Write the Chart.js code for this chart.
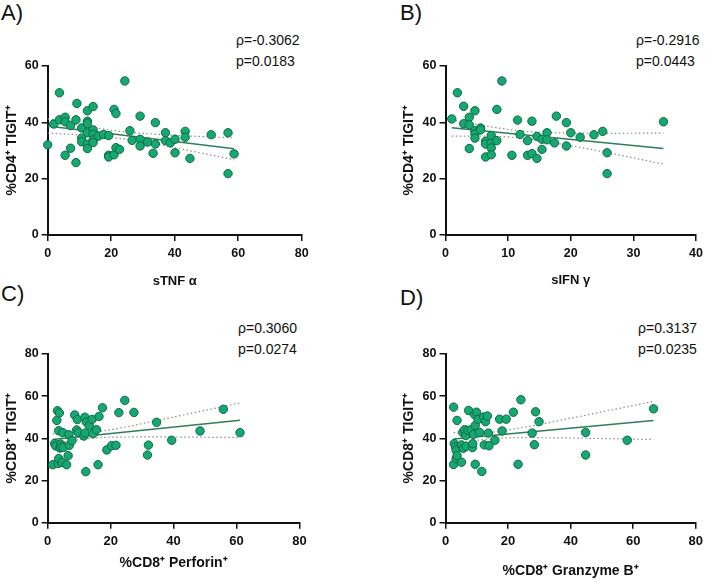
<!DOCTYPE html>
<html><head><meta charset="utf-8">
<script src="https://cdn.jsdelivr.net/npm/chart.js@4.4.0/dist/chart.umd.min.js"></script>
<style>
body{margin:0;width:708px;height:582px;background:#fff;position:relative;overflow:hidden;font-family:'Liberation Sans',Arial,sans-serif;}
.pane{position:absolute;}
.lbl{position:absolute;font-size:22px;color:#111;line-height:1;}
.stat{position:absolute;font-size:14px;color:#111;line-height:1;white-space:nowrap;}
</style></head><body>
<div class="lbl" style="left:1px;top:2px">A)</div>
<div class="lbl" style="left:400px;top:2px">B)</div>
<div class="lbl" style="left:1px;top:283px">C)</div>
<div class="lbl" style="left:400px;top:287px">D)</div>
<div class="stat" style="left:236px;top:33px">ρ=-0.3062</div>
<div class="stat" style="left:236px;top:54px">p=0.0183</div>
<div class="stat" style="left:636px;top:33px">ρ=-0.2916</div>
<div class="stat" style="left:636px;top:54px">p=0.0443</div>
<div class="stat" style="left:238px;top:321px">ρ=0.3060</div>
<div class="stat" style="left:238px;top:342px">p=0.0274</div>
<div class="stat" style="left:638px;top:321px">ρ=0.3137</div>
<div class="stat" style="left:638px;top:342px">p=0.0235</div>
<script>
// ---- Panel A: sTNF alpha vs %CD4+ TIGIT+
const tnfX = [0,1.9,3.7,3.7,5.5,5.5,5.5,7.2,7.2,8.9,8.9,9.2,10.7,10.7,10.7,12.5,12.5,12.5,12.5,12.5,12.5,14.3,14.3,14.3,14.3,14.3,16.0,17.6,19.2,19.2,19.2,20.9,21.5,20.9,21.5,22.6,24.3,25.9,26.6,29.1,29.1,29.1,31.5,33.2,33.9,33.9,37.1,37.1,38.6,40.1,40.1,43.3,43.3,44.8,51.5,56.8,56.8,58.7];
const tnfY = [32,39.4,50.5,40.9,41.8,40.2,28.3,38.9,30.8,25.7,40.9,46.7,38.0,34.4,33.1,44.1,40.4,39.6,36.3,32.2,30.7,45.6,37.3,35.7,33.7,32.8,35.1,35.7,35.3,28.3,27.7,44.6,43.1,28.5,31.0,30.4,54.7,37.0,33.6,42.2,34.0,31.6,33.0,29.0,39.9,32.3,36.3,33.5,32.7,34.0,29.2,36.8,34.7,27.2,35.6,36.3,21.8,28.8];
const tnfFitX = [0,58.7];
const tnfFitY = [38.7,30.6];
const tnfBandX = [0,10,22,35,45,58.7];
const tnfUpper = [41.25,39.05,36.93,35.69,35.13,34.5];
const tnfLower = [36.15,35.55,34.39,32.05,29.85,26.7];

// ---- Panel B: sIFN gamma vs %CD4+ TIGIT+
const ifnX = [1.0,1.9,2.9,2.9,3.8,3.8,3.8,4.7,4.7,4.7,4.7,5.6,5.6,6.4,6.4,6.4,7.3,7.3,7.3,7.3,8.2,8.2,9.0,10.6,11.5,11.9,13.1,13.1,13.8,13.8,14.6,14.6,15.4,15.4,16.2,16.2,17.4,17.7,19.3,19.3,20.0,21.5,23.7,25.1,25.8,25.8,34.8];
const ifnY = [41.2,50.5,45.7,39.5,41.8,39.1,30.7,44.1,37.0,35.9,34.4,38.0,37.3,33.3,32.3,27.7,35.3,32.5,30.9,28.5,44.6,33.5,54.7,28.3,40.8,35.7,33.5,28.3,40.4,28.9,35.0,27.2,34.0,30.4,36.3,33.8,32.7,42.2,39.9,31.6,36.3,34.7,35.6,36.8,29.2,21.8,40.2];
const ifnFitX = [1.0,34.8];
const ifnFitY = [38.1,30.7];
const ifnBandX = [1,6,12,20,27,34.8];
const ifnUpper = [40.9,38.88,36.96,36.19,36.11,36.2];
const ifnLower = [35.1,35.12,34.42,31.69,28.71,25.2];

// ---- Panel C: %CD8+ Perforin+ vs %CD8+ TIGIT+
const perfX = [1.6,2.2,2.6,2.9,3.1,3.3,3.5,3.5,3.7,3.9,4.1,4.3,4.6,4.8,5.0,6.0,6.5,6.7,6.9,7.7,8.6,9.2,9.4,9.7,11.5,11.8,11.9,12.1,12.3,13.2,14.1,14.4,15.5,16.0,16.3,17.4,18.8,20.3,21.7,22.6,24.5,27.4,31.7,32.0,34.6,39.4,48.4,55.8,61.1];
const perfY = [27.5,37.5,36.4,48.5,53.1,28.1,43.6,30.4,52.0,35.4,37.3,36.0,28.6,42.7,35.7,27.5,31.8,41.7,36.7,38.9,51.1,44.0,48.9,42.8,41.1,50.0,42.5,24.2,47.7,46.0,49.0,42.2,44.1,27.5,50.4,54.5,34.5,36.5,36.7,52.2,58.0,52.3,32.1,36.8,47.6,39.1,43.5,53.8,42.7];
const perfFitX = [1.6,61.1];
const perfFitY = [39.5,48.6];
const perfBandX = [1.6,8,13,22,35,48,61.1];
const perfUpper = [42.1,42.04,42.56,44.63,48.55,52.65,56.82];
const perfLower = [37.4,38.92,39.92,40.61,40.67,40.55,40.38];

// ---- Panel D: %CD8+ Granzyme B+ vs %CD8+ TIGIT+
const gzmX = [2.6,2.6,2.8,3.2,3.4,3.4,3.7,3.7,5.1,5.1,5.5,5.7,6.1,6.5,6.6,7.2,7.4,8.2,8.6,8.7,9.0,9.3,9.5,9.5,9.9,10.4,10.9,11.6,12.2,12.4,12.8,13.4,13.7,13.9,15.8,17.3,18.1,19.4,21.7,23.2,24.1,27.7,28.4,28.8,29.9,44.8,44.8,58.1,66.5];
const gzmY = [54.8,27.6,37.5,35.9,34.3,30.4,48.5,31.8,28.7,36.9,42.8,35.3,44.1,41.3,36.2,43.8,53.2,44.1,35.6,37.5,41.9,51.3,46.1,27.7,52.4,49.0,42.8,24.3,50.1,36.9,47.9,50.6,42.5,36.5,39.1,49.1,43.5,49.1,52.4,27.7,58.3,42.5,37.0,52.6,47.9,42.8,32.1,39.1,54.0];
const gzmFitX = [2.6,66.5];
const gzmFitY = [39.7,48.5];
const gzmBandX = [2.6,14,25,40,55,66.5];
const gzmUpper = [42.7,42.85,45.23,49.54,54.04,57.55];
const gzmLower = [37.6,39.69,40.33,40.16,39.76,39.45];

// ---- Tick labels
const xTicksA = [0,20,40,60,80];
const xTicksB = [0,10,20,30,40];
const xTicksCD = [0,20,40,60,80];
const yTicksTop = [0,20,40,60];
const yTicksBottom = [0,20,40,60,80];

const FILL = '#16a870';
const EDGE = '#0b6b46';
const FIT = '#2f7d5a';
const BAND = '#8c8c8c';

function pts(xs, ys){ return xs.map((x,i)=>({x:x, y:ys[i]})); }

function panel(cfg){
  const wrap = document.createElement('div');
  wrap.className = 'pane';
  wrap.style.left = cfg.box.x+'px'; wrap.style.top = cfg.box.y+'px';
  wrap.style.width = cfg.box.w+'px'; wrap.style.height = cfg.box.h+'px';
  const cv = document.createElement('canvas');
  cv.width = cfg.box.w; cv.height = cfg.box.h;
  cv.style.width = cfg.box.w+'px'; cv.style.height = cfg.box.h+'px';
  wrap.appendChild(cv); document.body.appendChild(wrap);

  const yLh = 14*1.2, xLh = cfg.xFont.size*1.2;
  const yLeft = cfg.yTitleX - yLh/2;
  const xBottom = cfg.xTitleY + xLh/2;
  const pad = {
    left: yLeft - cfg.box.x,
    top: cfg.area.t - cfg.box.y,
    right: cfg.box.x + cfg.box.w - cfg.area.r,
    bottom: cfg.box.y + cfg.box.h - xBottom
  };
  const yW = cfg.area.l - yLeft;
  const xH = xBottom - cfg.area.b;
  const xt = cfg.xTicks, yt = cfg.yTicks;

  new Chart(cv, {
    type: 'scatter',
    data: { datasets: [
      { data: pts(cfg.px, cfg.py), backgroundColor: FILL, borderColor: EDGE, borderWidth: 1,
        pointRadius: 4.2, order: 0, clip: false },
      { data: pts(cfg.fx, cfg.fy), showLine: true, pointRadius: 0, borderColor: FIT, borderWidth: 1.5,
        order: 1, clip: false },
      { data: pts(cfg.bx, cfg.bu), showLine: true, pointRadius: 0, borderColor: BAND, borderWidth: 1.2,
        borderDash: [1.5, 2.5], cubicInterpolationMode: 'monotone', order: 2, clip: false },
      { data: pts(cfg.bx, cfg.bl), showLine: true, pointRadius: 0, borderColor: BAND, borderWidth: 1.2,
        borderDash: [1.5, 2.5], cubicInterpolationMode: 'monotone', order: 2, clip: false }
    ]},
    options: {
      responsive: false, animation: false, devicePixelRatio: 1,
      layout: { padding: pad },
      plugins: { legend: { display: false }, tooltip: { enabled: false } },
      scales: {
        x: {
          type: 'linear', min: xt[0], max: xt[xt.length-1],
          afterFit: s => { s.height = xH; },
          afterBuildTicks: s => { s.ticks = xt.map(v => ({value: v})); },
          ticks: { stepSize: xt[1]-xt[0], color: '#111', padding: 5, font: cfg.xTickFont },
          grid: { drawOnChartArea: false, color: '#111', lineWidth: 1.5, tickLength: 6 },
          border: { display: true, color: '#111', width: 2 },
          title: { display: true, text: cfg.xTitle, color: '#111', padding: 0, font: cfg.xFont }
        },
        y: {
          type: 'linear', min: yt[0], max: yt[yt.length-1],
          afterFit: s => { s.width = yW; },
          afterBuildTicks: s => { s.ticks = yt.map(v => ({value: v})); },
          ticks: { stepSize: yt[1]-yt[0], color: '#111', padding: 3,
                   font: { family: "'Liberation Sans', Arial, sans-serif", size: 12.5, weight: 'bold' } },
          grid: { drawOnChartArea: false, color: '#111', lineWidth: 1.5, tickLength: 6 },
          border: { display: true, color: '#111', width: 2 },
          title: { display: true, text: cfg.yTitle, color: '#111', padding: 0,
                   font: { family: "'Liberation Sans', Arial, sans-serif", size: 14, weight: 'bold' } }
        }
      }
    }
  });
}

const normTick = { family: "'Liberation Sans', Arial, sans-serif", size: 12.5, weight: 'bold' };
const narrowTick = { family: "'Liberation Sans Narrow', 'Liberation Sans', Arial, sans-serif", size: 13, weight: 'bold' };

panel({ box:{x:0,y:0,w:354,h:291}, area:{l:47.7,r:301.7,t:66,b:235}, yTitleX:12.5, xTitleY:281,
  xTicks:xTicksA, yTicks:yTicksTop, xTickFont:normTick,
  xFont:{ family:"'Liberation Sans', Arial, sans-serif", size:13, weight:'bold' },
  xTitle:'sTNF α', yTitle:'%CD4⁺ TIGIT⁺',
  px:tnfX, py:tnfY, fx:tnfFitX, fy:tnfFitY, bx:tnfBandX, bu:tnfUpper, bl:tnfLower });

panel({ box:{x:354,y:0,w:354,h:291}, area:{l:445.5,r:699.3,t:66,b:235}, yTitleX:409.5, xTitleY:280,
  xTicks:xTicksB, yTicks:yTicksTop, xTickFont:normTick,
  xFont:{ family:"'Liberation Sans', Arial, sans-serif", size:13, weight:'bold' },
  xTitle:'sIFN γ', yTitle:'%CD4⁺ TIGIT⁺',
  px:ifnX, py:ifnY, fx:ifnFitX, fy:ifnFitY, bx:ifnBandX, bu:ifnUpper, bl:ifnLower });

panel({ box:{x:0,y:291,w:354,h:291}, area:{l:47.7,r:299.5,t:354,b:522.7}, yTitleX:12.5, xTitleY:563,
  xTicks:xTicksCD, yTicks:yTicksBottom, xTickFont:narrowTick,
  xFont:{ family:"'Liberation Sans Narrow', 'Liberation Sans', Arial, sans-serif", size:14, weight:'bold' },
  xTitle:'%CD8⁺ Perforin⁺', yTitle:'%CD8⁺ TIGIT⁺',
  px:perfX, py:perfY, fx:perfFitX, fy:perfFitY, bx:perfBandX, bu:perfUpper, bl:perfLower });

panel({ box:{x:354,y:291,w:354,h:291}, area:{l:445.5,r:699.3,t:354,b:522.7}, yTitleX:409.5, xTitleY:571,
  xTicks:xTicksCD, yTicks:yTicksBottom, xTickFont:narrowTick,
  xFont:{ family:"'Liberation Sans Narrow', 'Liberation Sans', Arial, sans-serif", size:14, weight:'bold' },
  xTitle:'%CD8⁺ Granzyme B⁺', yTitle:'%CD8⁺ TIGIT⁺',
  px:gzmX, py:gzmY, fx:gzmFitX, fy:gzmFitY, bx:gzmBandX, bu:gzmUpper, bl:gzmLower });
</script>
</body></html>
